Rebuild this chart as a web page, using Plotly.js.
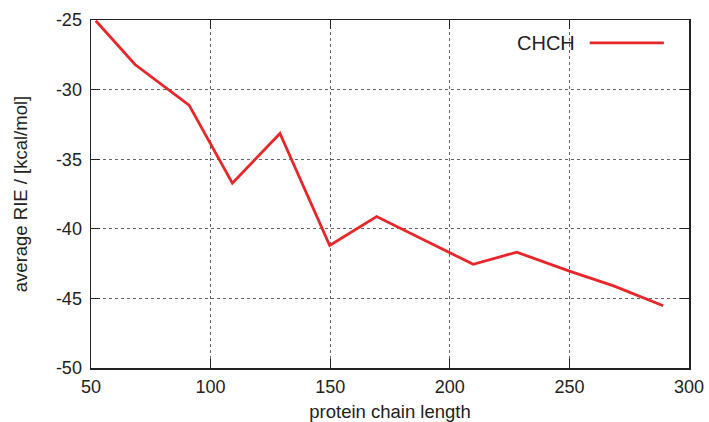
<!DOCTYPE html>
<html>
<head>
<meta charset="utf-8">
<script src="https://cdn.plot.ly/plotly-3.0.1.min.js"></script>
<style>html,body{margin:0;padding:0;background:#fff;}#chart{width:709px;height:422px;}</style>
</head>
<body>
<div id="chart"></div>
<script>
const chainLength = [52, 68.4, 91, 109.1, 129, 149.8, 169.4, 209.8, 228, 250, 268.5, 289.2];
const avgRIE = [-25.05, -28.2, -31.12, -36.72, -33.15, -41.2, -39.12, -42.55, -41.68, -43.04, -44.1, -45.53];
const seriesName = "CHCH";
const xTicks = [50, 100, 150, 200, 250, 300];
const yTicks = [-25, -30, -35, -40, -45, -50];

const font = "Liberation Sans, Arial, Helvetica, sans-serif";
const textColor = "#222";
const red = "#e8262a";

const axisCommon = {
  showline: true, linecolor: "#222", linewidth: 1.5, mirror: "allticks",
  ticks: "inside", ticklen: 9, tickcolor: "#222", tickwidth: 1.2,
  showgrid: true, gridcolor: "#666", griddash: "dot", gridwidth: 1,
  zeroline: false, tickfont: {family: font, size: 18, color: textColor}
};

const trace = {
  x: chainLength, y: avgRIE, name: seriesName, type: "scatter", mode: "lines",
  line: {color: red, width: 2.8}, showlegend: false, cliponaxis: true
};

const layout = {
  width: 709, height: 422,
  margin: {l: 91, r: 20, t: 20, b: 54.3},
  paper_bgcolor: "#fff", plot_bgcolor: "#fff",
  xaxis: Object.assign({}, axisCommon, {
    range: [50, 300], tickvals: xTicks, ticktext: xTicks.map(String),
    ticklabelstandoff: 2,
    title: {text: "protein chain length", font: {family: font, size: 18.5, color: textColor}, standoff: 9}
  }),
  yaxis: Object.assign({}, axisCommon, {
    range: [-50, -25], tickvals: yTicks, ticktext: yTicks.map(String),
    ticklabelstandoff: 4,
    title: {text: "average RIE / [kcal/mol]", font: {family: font, size: 18.5, color: textColor}, standoff: 23}
  }),
  annotations: [{
    xref: "paper", yref: "paper", x: 0.813, y: 0.934, xanchor: "right", yanchor: "middle",
    text: seriesName, showarrow: false, font: {family: font, size: 20, color: textColor}
  }],
  shapes: [{
    type: "line", xref: "paper", yref: "paper", x0: 0.834, x1: 0.958, y0: 0.934, y1: 0.934,
    line: {color: red, width: 2.8}
  }]
};

Plotly.newPlot("chart", [trace], layout, {displayModeBar: false, staticPlot: true});
</script>
</body>
</html>
